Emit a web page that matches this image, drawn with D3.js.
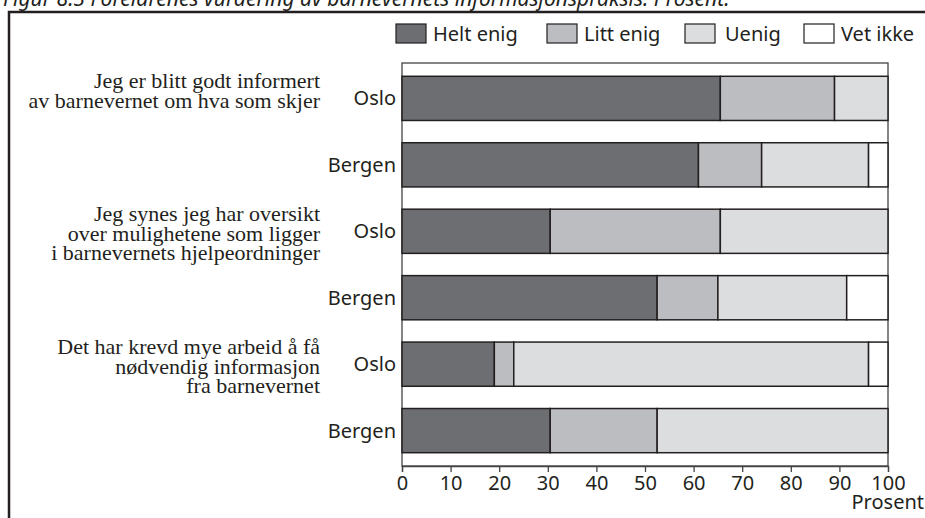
<!DOCTYPE html>
<html>
<head>
<meta charset="utf-8">
<script src="https://cdn.jsdelivr.net/npm/d3@7"></script>
<style>
  body { margin: 0; background: #fff; }
  svg { display: block; }
</style>
</head>
<body>
<svg id="chart"></svg>
<script>
// Data (percent)
const categories = ["Helt enig", "Litt enig", "Uenig", "Vet ikke"];
const colors = ["#6d6e71", "#bcbdc0", "#dcdddf", "#ffffff"];
const questions = [
  ["Jeg er blitt godt informert", "av barnevernet om hva som skjer"],
  ["Jeg synes jeg har oversikt", "over mulighetene som ligger", "i barnevernets hjelpeordninger"],
  ["Det har krevd mye arbeid å få", "nødvendig informasjon", "fra barnevernet"]
];
const cities = ["Oslo", "Bergen"];
const heltEnig = [65.5, 61, 30.5, 52.5, 19, 30.5];
const littEnig = [23.5, 13, 35, 12.5, 4, 22];
const uenig    = [11, 22, 34.5, 26.5, 73, 47.5];
const vetIkke  = [0, 4, 0, 8.5, 4, 0];
const xTicks = [0, 10, 20, 30, 40, 50, 60, 70, 80, 90, 100];
const title = "Figur 8.3 Foreldrenes vurdering av barnevernets informasjonspraksis. Prosent.";

const W = 925, H = 518;
const plot = { left: 402, right: 888, top: 63, bottom: 466 };
const sans = "'Noto Sans', 'Open Sans', sans-serif";
const serif = "'Liberation Serif', 'DejaVu Serif', serif";
const ink = "#231f20";

const svg = d3.select("#chart").attr("width", W).attr("height", H);

// rows: one per question x city
const rows = [];
questions.forEach(function(q, qi) {
  cities.forEach(function(c, ci) {
    const i = qi * 2 + ci;
    rows.push({ id: qi + "-" + c, q: qi, city: c,
      values: [heltEnig[i], littEnig[i], uenig[i], vetIkke[i]] });
  });
});

const x = d3.scaleLinear().domain([0, 100]).range([plot.left, plot.right]);
const y = d3.scaleBand()
  .domain(rows.map(function(d) { return d.id; }))
  .range([plot.top, plot.bottom])
  .paddingInner(0.335)
  .paddingOuter(0.2);

// title (clipped at top) and outer frame
svg.append("text")
  .attr("x", 3).attr("y", 6)
  .style("font-family", sans).style("font-style", "italic")
  .style("font-size", "21px").attr("fill", ink)
  .text(title);

svg.append("path")
  .attr("d", "M9," + H + " V12 H" + W)
  .attr("fill", "none").attr("stroke", ink).attr("stroke-width", 2.5);

// plot frame
svg.append("rect")
  .attr("x", plot.left).attr("y", plot.top)
  .attr("width", plot.right - plot.left).attr("height", plot.bottom - plot.top)
  .attr("fill", "none").attr("stroke", "#444").attr("stroke-width", 1.3);

// stacked bars
const stack = rows.map(function(r) {
  let acc = 0;
  return r.values.map(function(v, k) {
    const seg = { row: r, k: k, x0: acc, x1: acc + v };
    acc += v;
    return seg;
  });
});

svg.append("g").selectAll("g")
  .data(stack)
  .join("g")
  .selectAll("rect")
  .data(function(d) { return d.filter(function(s) { return s.x1 > s.x0; }); })
  .join("rect")
  .attr("x", function(d) { return x(d.x0); })
  .attr("y", function(d) { return y(d.row.id); })
  .attr("width", function(d) { return x(d.x1) - x(d.x0); })
  .attr("height", y.bandwidth())
  .attr("fill", function(d) { return colors[d.k]; })
  .attr("stroke", ink)
  .attr("stroke-width", 1.5);

// city labels
svg.append("g").selectAll("text")
  .data(rows)
  .join("text")
  .attr("x", plot.left - 6)
  .attr("y", function(d) { return y(d.id) + y.bandwidth() / 2 + 7; })
  .attr("text-anchor", "end")
  .style("font-family", sans).style("font-size", "20px").attr("fill", ink)
  .text(function(d) { return d.city; });

// question labels
questions.forEach(function(lines, qi) {
  const cy = y(qi + "-Oslo") + y.bandwidth() / 2;
  svg.append("text")
    .attr("text-anchor", "end")
    .style("font-family", serif).style("font-size", "22px").attr("fill", ink)
    .selectAll("tspan")
    .data(lines)
    .join("tspan")
    .attr("x", 320)
    .attr("y", function(d, i) { return cy - 10 + i * 19.5; })
    .text(function(d) { return d; });
});

// x axis
const xAxis = svg.append("g")
  .attr("transform", "translate(0," + plot.bottom + ")")
  .call(d3.axisBottom(x).tickValues(xTicks).tickSize(6).tickPadding(4));
xAxis.select(".domain").attr("stroke", "#444").attr("stroke-width", 1.3);
xAxis.selectAll(".tick line").attr("stroke", "#444").attr("stroke-width", 1.3);
xAxis.selectAll(".tick text")
  .style("font-family", sans).style("font-size", "20px").attr("fill", ink);

svg.append("text")
  .attr("x", W - 1).attr("y", 509)
  .attr("text-anchor", "end")
  .style("font-family", sans).style("font-size", "20px").attr("fill", ink)
  .text("Prosent");

// legend
const legendX = [396, 547, 685, 804];
const legend = svg.append("g").selectAll("g")
  .data(categories)
  .join("g")
  .attr("transform", function(d, i) { return "translate(" + legendX[i] + ",24)"; });
legend.append("rect")
  .attr("width", 30).attr("height", 19)
  .attr("fill", function(d, i) { return colors[i]; })
  .attr("stroke", ink).attr("stroke-width", 1.2);
legend.append("text")
  .attr("x", function(d, i) { return i === 2 ? 40 : 37; })
  .attr("y", 17)
  .style("font-family", sans).style("font-size", "20px").attr("fill", ink)
  .text(function(d) { return d; });
</script>
</body>
</html>
